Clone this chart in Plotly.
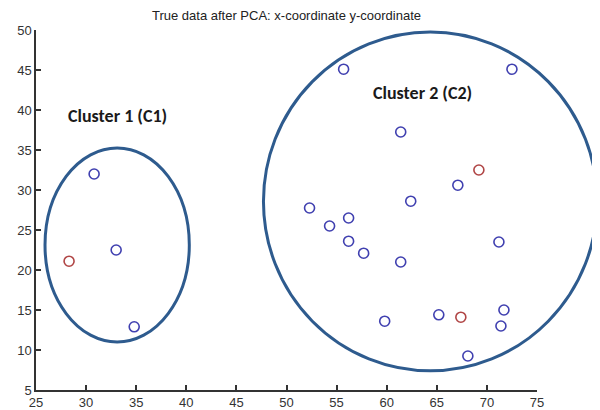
import plotly.graph_objects as go

# Data points (x, y)
blue_x = [30.8, 33.0, 34.8,
          55.7, 72.5, 61.4, 67.1, 62.4, 52.3, 56.2, 54.3, 56.2, 71.2, 57.7,
          61.4, 71.7, 65.2, 71.4, 59.8, 68.1]
blue_y = [32.0, 22.5, 12.9,
          45.1, 45.1, 37.25, 30.6, 28.6, 27.75, 26.5, 25.5, 23.6, 23.5, 22.1,
          21.0, 15.0, 14.4, 13.0, 13.6, 9.25]
red_x = [28.3, 69.2, 67.4]
red_y = [21.1, 32.5, 14.1]

# Cluster ellipses in data units: x0, x1, y0, y1
cluster_names = ["Cluster 1 (C1)", "Cluster 2 (C2)"]
ell_x0 = [25.9, 47.7]
ell_x1 = [40.3, 81.0]
ell_y0 = [11.0, 7.4]
ell_y1 = [35.25, 49.75]
label_x = [33.1, 63.6]
label_y = [39.3, 42.1]

x_range = [25, 75]
y_range = [5, 50]

fig = go.Figure()
fig.add_trace(go.Scatter(x=blue_x, y=blue_y, mode="markers",
                         marker=dict(symbol="circle-open", size=10, color="#4040b0",
                                     line=dict(width=1.6)),
                         cliponaxis=False, showlegend=False))
fig.add_trace(go.Scatter(x=red_x, y=red_y, mode="markers",
                         marker=dict(symbol="circle-open", size=10, color="#b04545",
                                     line=dict(width=1.6)),
                         cliponaxis=False, showlegend=False))

def px(v):
    return (v - x_range[0]) / (x_range[1] - x_range[0])

def py(v):
    return (v - y_range[0]) / (y_range[1] - y_range[0])

for i in range(2):
    fig.add_shape(type="circle", xref="paper", yref="paper",
                  x0=px(ell_x0[i]), x1=px(ell_x1[i]),
                  y0=py(ell_y0[i]), y1=py(ell_y1[i]),
                  line=dict(color="#2e5b8e", width=3))
    fig.add_annotation(x=label_x[i], y=label_y[i], xref="x", yref="y",
                       text="<b>" + cluster_names[i] + "</b>", showarrow=False,
                       font=dict(family="Carlito, Calibri, Lato, sans-serif", size=18,
                                 color="#1a1a1a"))

# The page body adds an 8px offset, so the figure is sized to fill the rest.
fig.update_layout(
    width=592, height=402,
    margin=dict(l=28, r=63, t=22, b=20),
    paper_bgcolor="white", plot_bgcolor="white",
    title=dict(text="True data after PCA: x-coordinate y-coordinate",
               x=0.5, xref="paper", xanchor="center",
               yref="container", y=1.0, yanchor="top", pad=dict(t=3, b=0),
               font=dict(family="Liberation Sans, Arial, sans-serif", size=13,
                         color="#222222")),
    font=dict(family="Liberation Sans, Arial, sans-serif", size=13, color="#333333"),
)
fig.update_xaxes(range=x_range, tickmode="array",
                 tickvals=list(range(25, 76, 5)), automargin=False,
                 showgrid=False, zeroline=False, showline=True,
                 linecolor="#333333", linewidth=1.5,
                 ticks="inside", ticklen=5, tickcolor="#333333", tickwidth=1.5)
fig.update_yaxes(range=y_range, tickmode="array",
                 tickvals=list(range(5, 51, 5)), automargin=False,
                 showgrid=False, zeroline=False, showline=True,
                 linecolor="#333333", linewidth=1.5,
                 ticks="inside", ticklen=5, tickcolor="#333333", tickwidth=1.5)

fig.write_html("out.html")
